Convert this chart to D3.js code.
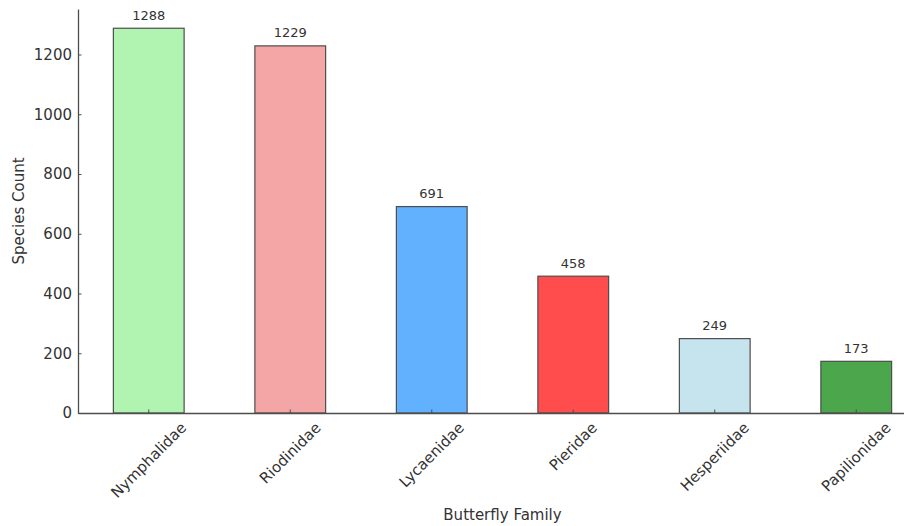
<!DOCTYPE html>
<html>
<head>
<meta charset="utf-8">
<script src="https://cdn.jsdelivr.net/npm/d3@7"></script>
<style>
  body { margin: 0; background: #fff; }
  svg { display: block; font-family: "DejaVu Sans", sans-serif; }
</style>
</head>
<body>
<svg id="chart" width="904" height="526"></svg>
<script>
const families = ["Nymphalidae", "Riodinidae", "Lycaenidae", "Pieridae", "Hesperiidae", "Papilionidae"];
const speciesCounts = [1288, 1229, 691, 458, 249, 173];
const barColors = ["#b1f3b1", "#f4a6a6", "#61b1ff", "#ff4d4d", "#c6e4ee", "#4ca64c"];
const yTicks = [0, 200, 400, 600, 800, 1000, 1200];

(function () {
const svg = d3.select("#chart");
const mLeft = 78, mRight = 927, mTop = 9, mBottom = 413;
const axisColor = "#4d4d4d", textColor = "#333";

const x = d3.scaleBand().domain(families).range([mLeft, mRight]).paddingInner(0.5).paddingOuter(0.25);
const y = d3.scaleLinear().domain([0, d3.max(speciesCounts) * 1.05]).range([mBottom, mTop]);

const data = families.map((f, i) => ({ f, v: speciesCounts[i], c: barColors[i] }));

// bars
svg.append("g").selectAll("rect").data(data).join("rect")
  .attr("x", d => x(d.f))
  .attr("y", d => y(d.v))
  .attr("width", x.bandwidth())
  .attr("height", d => y(0) - y(d.v))
  .attr("fill", d => d.c)
  .attr("stroke", axisColor)
  .attr("stroke-width", 1.2);

// value labels
svg.append("g").selectAll("text").data(data).join("text")
  .attr("x", d => x(d.f) + x.bandwidth() / 2)
  .attr("y", d => y(d.v) - 8.5)
  .attr("text-anchor", "middle")
  .attr("font-size", 13)
  .attr("fill", textColor)
  .text(d => d.v);

// y axis
const yAxis = svg.append("g").attr("transform", `translate(${mLeft},0)`)
  .call(d3.axisLeft(y).tickValues(yTicks).tickFormat(d3.format("d")).tickSizeInner(-3.5).tickSizeOuter(0));
yAxis.attr("font-family", "DejaVu Sans");
yAxis.select(".domain").attr("stroke", axisColor).attr("stroke-width", 1.3);
yAxis.selectAll(".tick line").attr("stroke", axisColor).attr("stroke-width", 1);
yAxis.selectAll(".tick text").attr("font-size", 15).attr("fill", textColor).attr("x", -6);

// x axis
const xAxis = svg.append("g").attr("transform", `translate(0,${mBottom})`)
  .call(d3.axisBottom(x).tickSizeInner(-3.5).tickSizeOuter(0).tickFormat(""));
xAxis.select(".domain").attr("stroke", axisColor).attr("stroke-width", 1.3);
xAxis.selectAll(".tick line").attr("stroke", axisColor).attr("stroke-width", 1);

// rotated x labels (center-aligned bbox, 45 degrees)
const labG = svg.append("g");
families.forEach(f => {
  const t = labG.append("text")
    .attr("font-size", 15).attr("fill", textColor)
    .attr("text-anchor", "middle").attr("dominant-baseline", "central")
    .text(f);
  const L = t.node().getComputedTextLength();
  const fh = 15 * 1.16;
  const h = (L + fh) * Math.SQRT1_2;
  const cx = x(f) + x.bandwidth() / 2;
  const cy = mBottom + 6 + h / 2;
  t.attr("transform", `translate(${cx},${cy}) rotate(-45)`);
});

// axis titles
svg.append("text")
  .attr("x", (mLeft + mRight) / 2).attr("y", 520)
  .attr("text-anchor", "middle").attr("font-size", 15).attr("fill", textColor)
  .text("Butterfly Family");
svg.append("text")
  .attr("transform", `translate(24,${(mTop + mBottom) / 2}) rotate(-90)`)
  .attr("text-anchor", "middle").attr("font-size", 15).attr("fill", textColor)
  .text("Species Count");
})();
</script>
</body>
</html>
